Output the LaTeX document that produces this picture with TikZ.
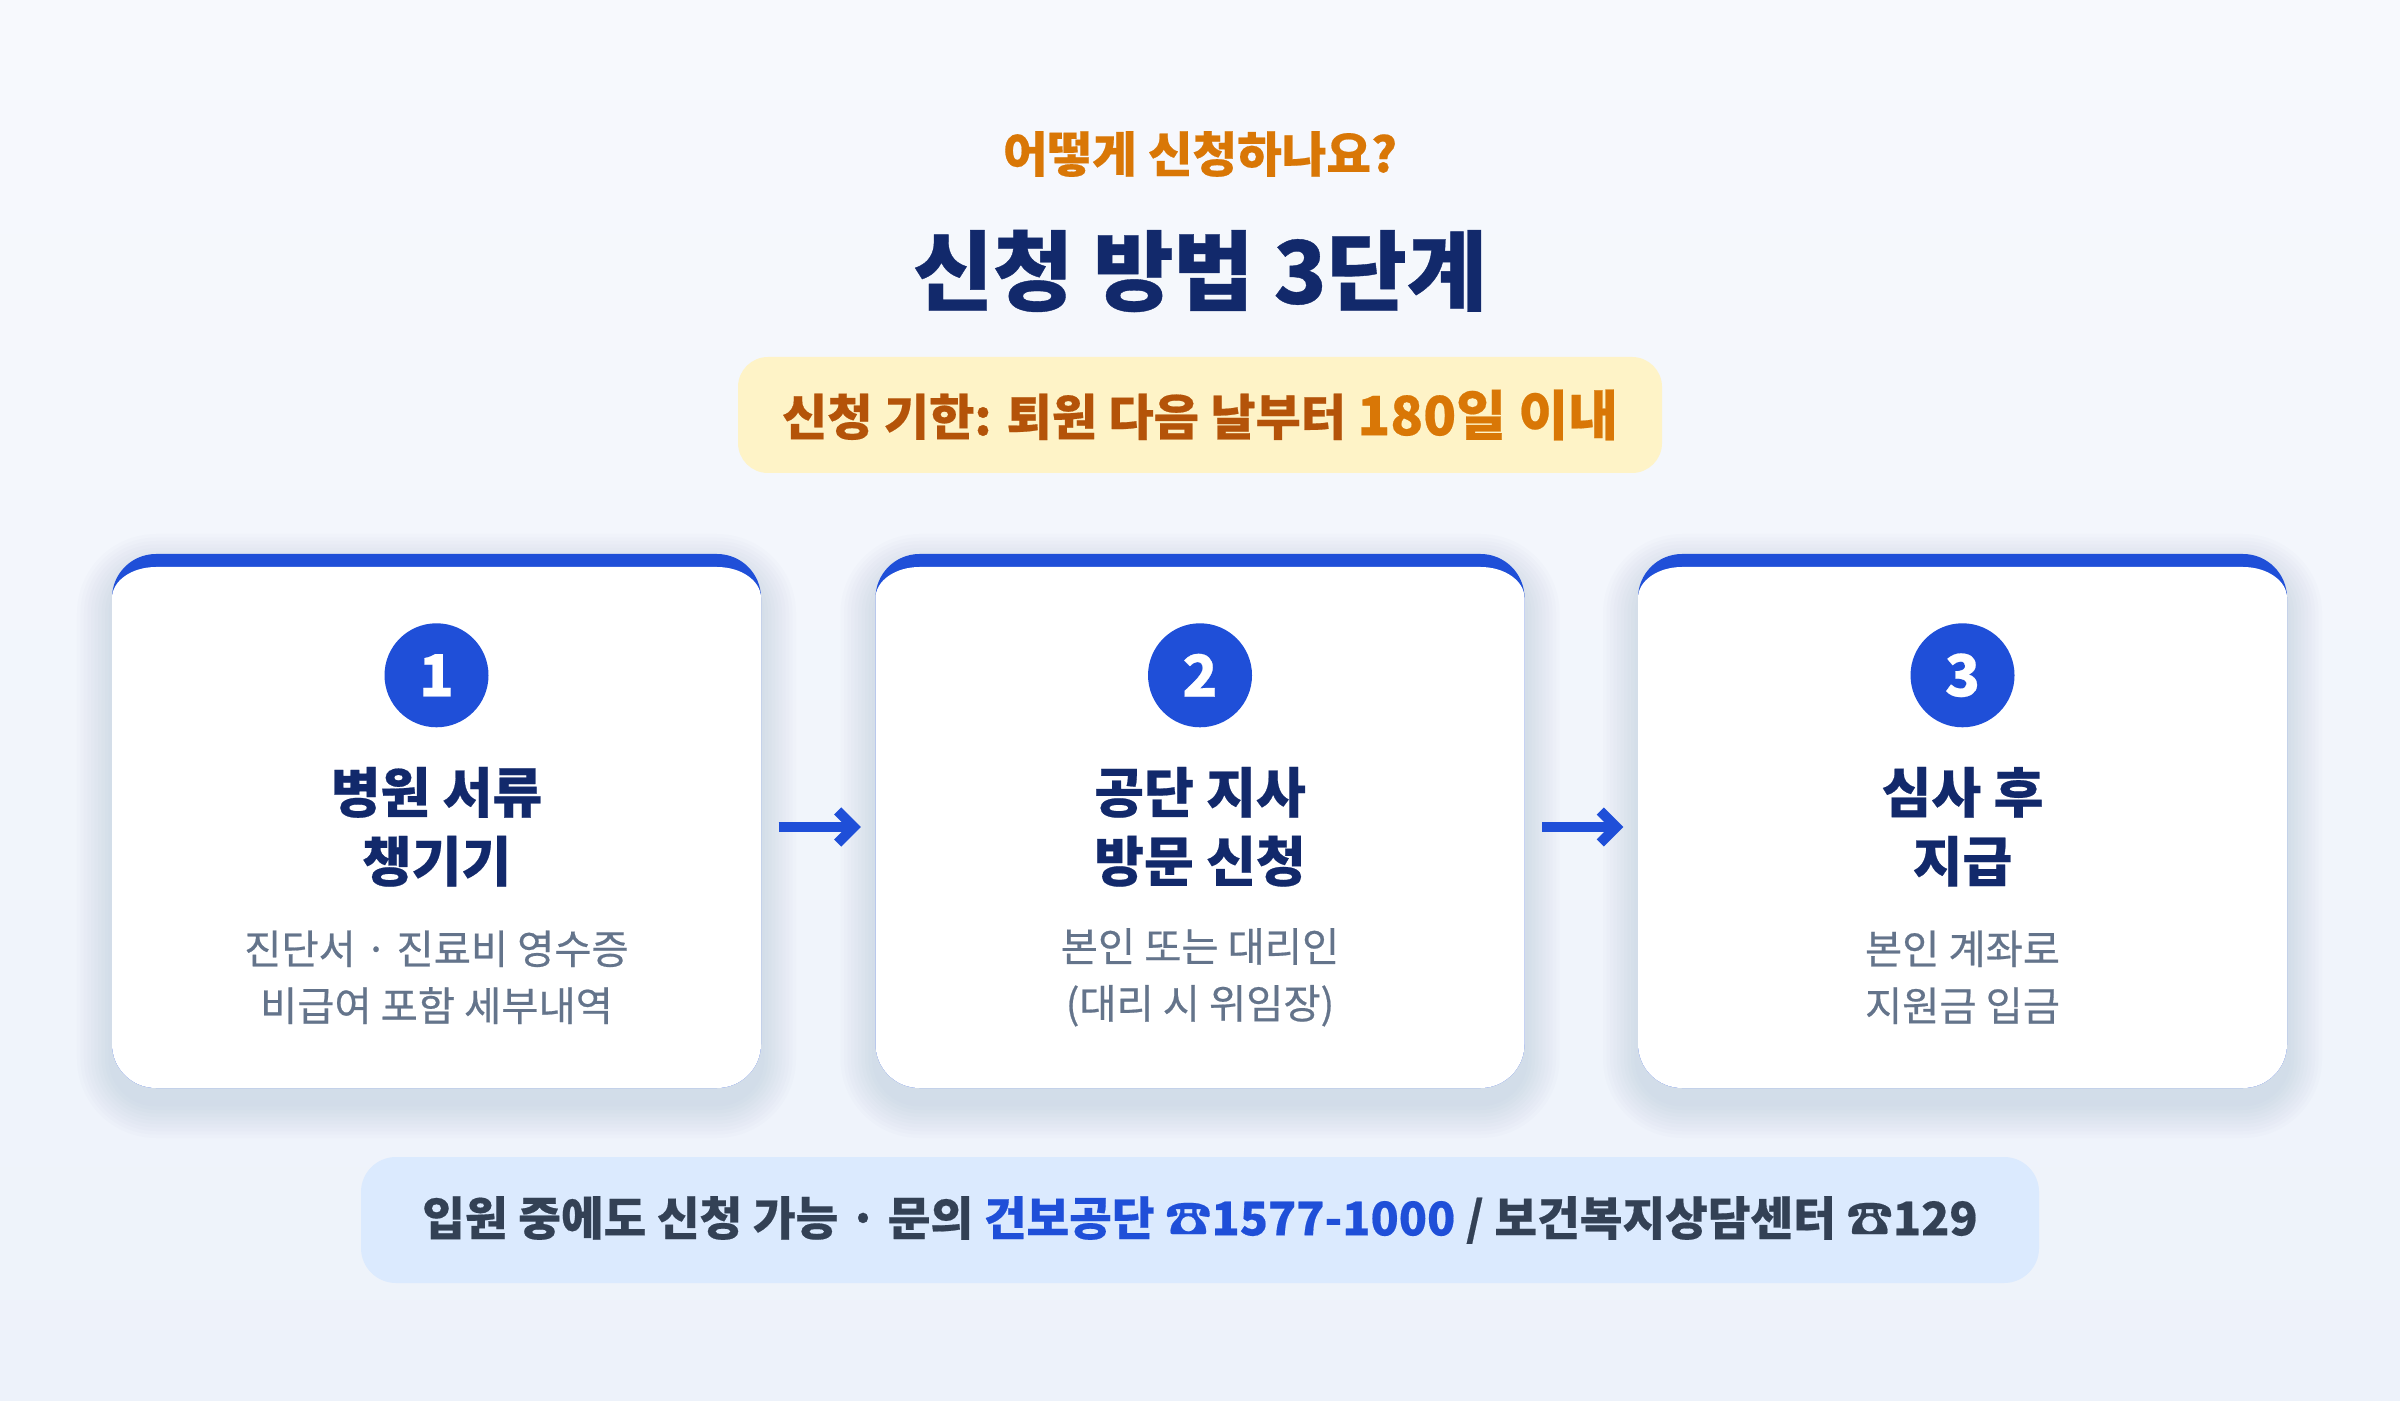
\documentclass[tikz,border=0pt]{standalone}
\usepackage{fontspec}
\setmainfont{Noto Sans CJK KR}[BoldFeatures={FakeBold=0.4}]
\newfontfamily\descfont{Noto Sans CJK KR}[FakeBold=0.5]
\usetikzlibrary{arrows.meta,positioning}

\definecolor{bgtop}{HTML}{F7F9FD}
\definecolor{bgbottom}{HTML}{EDF2FA}
\definecolor{kickerorange}{HTML}{D97706}
\definecolor{deadlinebrown}{HTML}{B45309}
\definecolor{deadlinefill}{HTML}{FEF3C7}
\definecolor{navy}{HTML}{12296B}
\definecolor{stepblue}{HTML}{1F4FD8}
\definecolor{descgray}{HTML}{64748B}
\definecolor{notefill}{HTML}{DBEAFE}
\definecolor{noteslate}{HTML}{334155}
\definecolor{cardshadow}{HTML}{6F86B8}

\begin{document}
\begin{tikzpicture}[
  card/.style={rectangle, rounded corners=4.4mm, fill=stepblue, inner sep=0pt,
    minimum width=6.49cm, minimum height=5.34cm,
    path picture={
      \fill[white, sharp corners] ([xshift=-1mm, yshift=-4.4mm]path picture bounding box.north west)
        -- ([yshift=-4.4mm]path picture bounding box.north west)
        arc[start angle=180, end angle=90, x radius=4.4mm, y radius=3.1mm]
        -- ([xshift=-4.4mm, yshift=-1.3mm]path picture bounding box.north east)
        arc[start angle=90, end angle=0, x radius=4.4mm, y radius=3.1mm]
        -- ([xshift=1mm, yshift=-4.4mm]path picture bounding box.north east)
        -- ([xshift=1mm, yshift=-1mm]path picture bounding box.south east)
        -- ([xshift=-1mm, yshift=-1mm]path picture bounding box.south west) -- cycle;
    }},
  stepnum/.style={circle, fill=stepblue, text=white, minimum size=1.04cm, inner sep=0pt,
    font=\bfseries\fontsize{16.5}{18}\selectfont},
  steptitle/.style={align=center, text=navy, font=\bfseries\fontsize{15.4}{19.6}\selectfont},
  stepdesc/.style={align=center, text=descgray, font=\descfont\fontsize{11.5}{16.2}\selectfont},
  flow/.style={draw=stepblue, line width=1mm, line join=miter,
    -{Straight Barb[length=1.6mm, width=3.2mm]}, shorten <=1.7mm, shorten >=1.4mm},
]
  % background
  \shade[top color=bgtop, bottom color=bgbottom] (0,0) rectangle (24,14);
  \useasboundingbox (0,0) rectangle (24,14);

  % heading
  \node[text=kickerorange, font=\bfseries\fontsize{13.8}{16}\selectfont] (kicker) at (12,12.46) {어떻게 신청하나요?};
  \node[text=navy, font=\bfseries\fontsize{24.8}{28}\selectfont] (title) at (12,11.29) {신청 방법 3단계};
  \node[fill=deadlinefill, rounded corners=3mm, minimum width=9.24cm, minimum height=1.16cm,
    text=deadlinebrown, font=\bfseries\fontsize{14}{17}\selectfont] (deadline) at (12,9.85)
    {\raisebox{-0.4mm}{신청 기한: 퇴원 다음 날부터 {\color{kickerorange}\fontsize{15.4}{18}\selectfont 180일 이내}}};

  % soft shadows under the cards
  \foreach \cx in {4.365,12,19.625}
    \foreach \k in {1,...,10}
      \fill[cardshadow, opacity=0.018, rounded corners=4.4mm+\k*0.35mm]
        (\cx-3.245-\k*0.035, 5.79-2.67-\k*0.035-0.15) rectangle (\cx+3.245+\k*0.035, 5.79+2.67+\k*0.035-0.15);

  % steps
  \node[card] (c1) at (4.365,5.79) {};
  \node[card] (c2) at (12,5.79) {};
  \node[card] (c3) at (19.625,5.79) {};

  \node[stepnum] (n1) at ([yshift=-12.2mm]c1.north) {1};
  \node[steptitle] (t1) at ([yshift=-27.35mm]c1.north) {병원 서류\\챙기기};
  \node[stepdesc] (d1) at ([yshift=-42.4mm]c1.north) {진단서 · 진료비 영수증\\비급여 포함 세부내역};

  \node[stepnum] (n2) at ([yshift=-12.2mm]c2.north) {2};
  \node[steptitle] (t2) at ([yshift=-27.35mm]c2.north) {공단 지사\\방문 신청};
  \node[stepdesc] (d2) at ([yshift=-42.4mm]c2.north) {본인 또는 대리인\\(대리 시 위임장)};

  \node[stepnum] (n3) at ([yshift=-12.2mm]c3.north) {3};
  \node[steptitle] (t3) at ([yshift=-27.35mm]c3.north) {심사 후\\지급};
  \node[stepdesc] (d3) at ([yshift=-42.4mm]c3.north) {본인 계좌로\\지원금 입금};

  \draw[flow] ([yshift=-0.6mm]c1.east) -- ([yshift=-0.6mm]c2.west);
  \draw[flow] ([yshift=-0.6mm]c2.east) -- ([yshift=-0.6mm]c3.west);

  % footer
  \node[fill=notefill, rounded corners=3.5mm, minimum width=16.78cm, minimum height=1.26cm,
    text=noteslate, font=\bfseries\fontsize{13.2}{15}\selectfont] (note) at (12,1.80)
    {\raisebox{-0.9mm}{입원 중에도 신청 가능 · 문의 {\color{stepblue}건보공단 ☎1577-1000} / 보건복지상담센터 ☎129}};
\end{tikzpicture}
\end{document}
